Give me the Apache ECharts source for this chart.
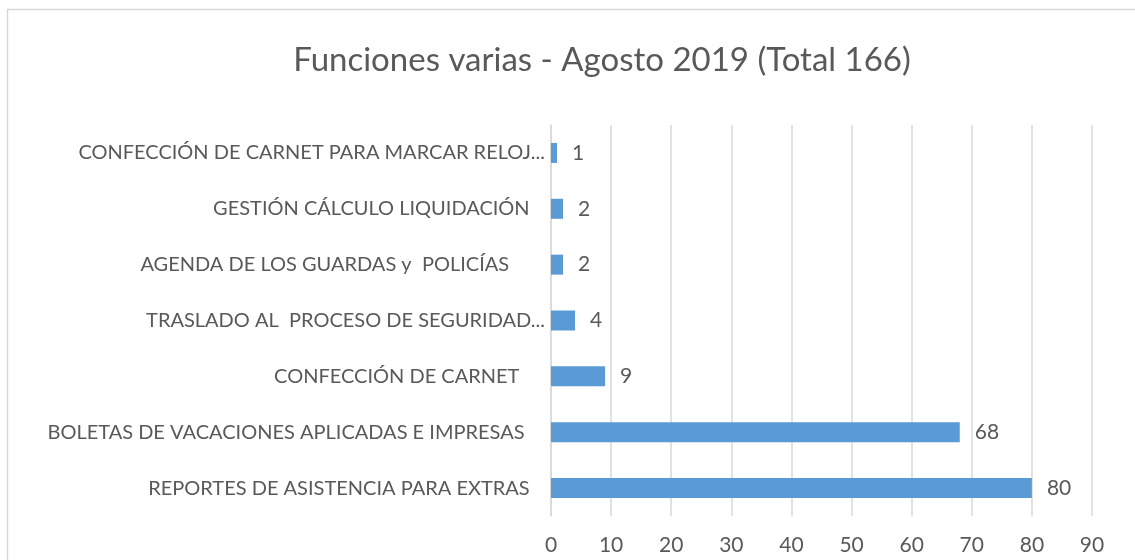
<!DOCTYPE html>
<html>
<head>
<meta charset="utf-8">
<script src="https://cdn.jsdelivr.net/npm/echarts@6/dist/echarts.min.js"></script>
<style>
  html, body { margin: 0; padding: 0; background: #fff; }
  #main { width: 1135px; height: 560px; }
</style>
</head>
<body>
<div id="main"></div>
<script>
// categorias de abajo hacia arriba (como las dibuja el eje); los espacios finales vienen del original
const categorias = [
  "REPORTES DE ASISTENCIA PARA EXTRAS   ",
  "BOLETAS DE VACACIONES APLICADAS E IMPRESAS    ",
  "CONFECCIÓN DE CARNET     ",
  "TRASLADO AL  PROCESO DE SEGURIDAD...",
  "AGENDA DE LOS GUARDAS y  POLICÍAS       ",
  "GESTIÓN CÁLCULO LIQUIDACIÓN   ",
  "CONFECCIÓN DE CARNET PARA MARCAR RELOJ..."
];
const valores = [80, 68, 9, 4, 2, 2, 1];
const tituloTexto = "Funciones varias - Agosto 2019 (Total 166)";

const fuente = "Lato, 'Open Sans', sans-serif";
const gris = "#595959";

let myChart = echarts.init(document.getElementById("main"));

let option = {
  backgroundColor: "#fff",
  animation: false,
  title: {
    text: tituloTexto,
    left: 597,
    textAlign: "center",
    top: 39,
    textStyle: { fontFamily: fuente, fontSize: 33, fontWeight: "normal", color: gris }
  },
  graphic: [
    {
      type: "rect",
      shape: { x: 7.5, y: 9.5, width: 1200, height: 600 },
      style: { fill: "none", stroke: "#d9d9d9", lineWidth: 1.5 },
      silent: true
    }
  ],
  grid: { left: 551, right: 43, top: 125, bottom: 44 },
  xAxis: {
    type: "value",
    min: 0,
    max: 90,
    interval: 10,
    axisLine: { show: false },
    axisTick: { show: false },
    splitLine: { lineStyle: { color: "#d9d9d9", width: 1.5 } },
    axisLabel: { fontFamily: fuente, fontSize: 21, color: gris, margin: 19 }
  },
  yAxis: {
    type: "category",
    data: categorias,
    axisLine: { show: true, lineStyle: { color: "#d9d9d9", width: 1.5 } },
    axisTick: { show: false },
    axisLabel: { fontFamily: fuente, fontSize: 20, color: gris, margin: 6 }
  },
  series: [
    {
      type: "bar",
      data: valores,
      barWidth: 20,
      itemStyle: { color: "#5b9bd5" },
      label: {
        show: true,
        position: "right",
        distance: 15,
        fontFamily: fuente,
        fontSize: 21,
        color: gris
      }
    }
  ]
};

myChart.setOption(option);
</script>
</body>
</html>
